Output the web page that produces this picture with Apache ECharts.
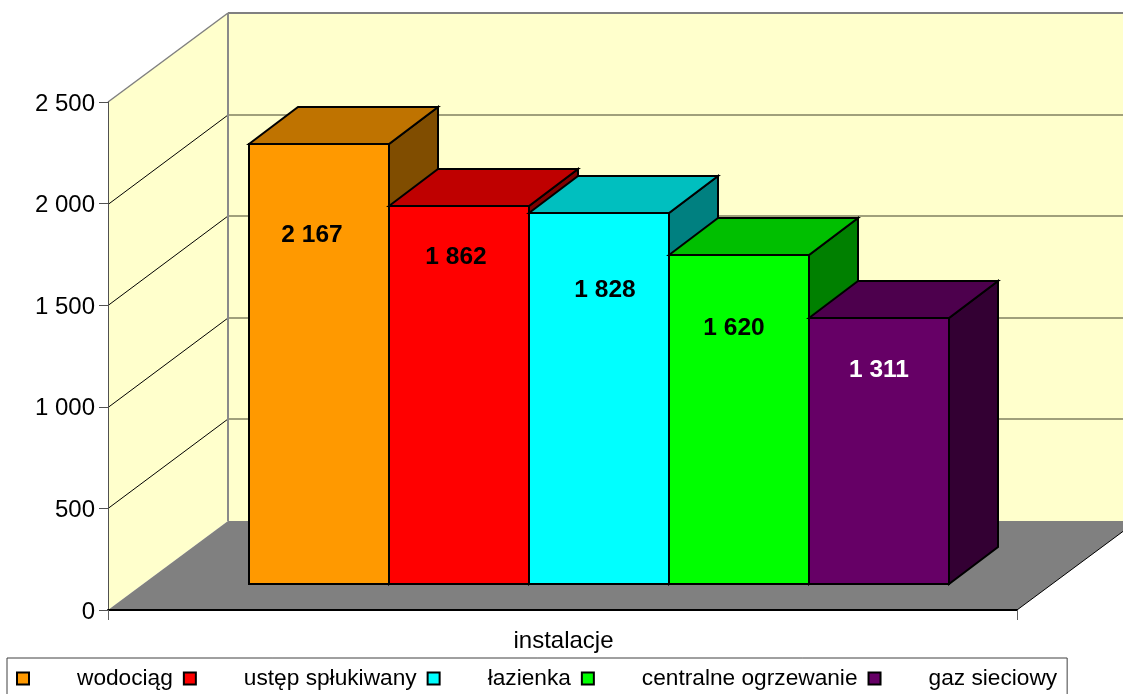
<!DOCTYPE html>
<html><head><meta charset="utf-8">
<style>html,body{margin:0;padding:0;background:#fff;overflow:hidden}#c{width:1123px;height:694px}</style>
<script src="https://cdn.jsdelivr.net/npm/echarts@6/dist/echarts.min.js"></script>
</head><body><div id="c"></div>
<script>
const category = ['instalacje'];
const seriesNames = ['wodociąg', 'ustęp spłukiwany', 'łazienka', 'centralne ogrzewanie', 'gaz sieciowy'];
const seriesValues = [2167, 1862, 1828, 1620, 1311];
const yTicks = [0, 500, 1000, 1500, 2000, 2500];

const frontColors = ['#FF9900', '#FF0000', '#00FFFF', '#00FF00', '#660066'];
const topColors = ['#BF7300', '#BF0000', '#00BFBF', '#00BF00', '#4D004D'];
const sideColors = ['#804D00', '#800000', '#008080', '#008000', '#330033'];
const labelColors = ['#000', '#000', '#000', '#000', '#fff'];
const labelNudgeX = [-7, -3, 6, -5, 0];
const labelNudgeY = [91, 51, 77, 73, 52];

const WALL_DX = 120, WALL_DY = -89;
const BAR_SHIFT_X = 36.5, BAR_LIFT = 26;
const BAR_DX = 49, BAR_DY = -37;
const BAR_SHARE = 0.154;
const FONT = '"Liberation Sans", Arial, sans-serif';

const fmt = v => String(v).replace(/\B(?=(\d{3})+$)/g, ' ');

function wallsItem(params, api) {
  const c0 = api.coord([0, 0]);
  const w = api.size([1, 0])[0];
  const L = c0[0] - w / 2, R = c0[0] + w / 2, B = c0[1];
  const T = api.coord([0, yTicks[yTicks.length - 1]])[1];
  const poly = (points, fill) => ({type: 'polygon', shape: {points}, style: {fill, stroke: null}});
  const line = (x1, y1, x2, y2, stroke, lineWidth) => ({type: 'line', shape: {x1, y1, x2, y2}, style: {stroke, lineWidth}});
  const kids = [
    poly([[L + WALL_DX, T + WALL_DY], [R + WALL_DX, T + WALL_DY], [R + WALL_DX, B + WALL_DY], [L + WALL_DX, B + WALL_DY]], '#FFFFCC'),
    poly([[L, T], [L + WALL_DX, T + WALL_DY], [L + WALL_DX, B + WALL_DY], [L, B]], '#FFFFCC'),
    poly([[L, B], [L + WALL_DX, B + WALL_DY], [R + WALL_DX, B + WALL_DY], [R, B]], '#808080')
  ];
  yTicks.slice(1, -1).forEach(t => {
    const y = Math.round(api.coord([0, t])[1]) + 0.5;
    kids.push(line(L + WALL_DX, y + WALL_DY - 0.5, R + WALL_DX, y + WALL_DY - 0.5, '#808060', 1.6));
    kids.push(line(L, y, L + WALL_DX, y + WALL_DY - 0.5, '#000', 1));
  });
  kids.push(line(L + WALL_DX, T + WALL_DY, R + WALL_DX, T + WALL_DY, '#808080', 2));
  kids.push(line(L + WALL_DX, T + WALL_DY, L + WALL_DX, B + WALL_DY, '#8a8a8a', 2));
  kids.push(line(L, T, L + WALL_DX, T + WALL_DY, '#808080', 1.5));
  kids.push(line(R, B, R + WALL_DX, B + WALL_DY, '#000', 1));
  return {type: 'group', children: kids};
}

function barItem(i) {
  return function (params, api) {
    const v = api.value(1);
    const c0 = api.coord([0, 0]);
    const cv = api.coord([0, v]);
    const bw = api.size([1, 0])[0] * BAR_SHARE;
    const x0 = Math.round(c0[0] + BAR_SHIFT_X + (i - seriesNames.length / 2) * bw);
    const x1 = Math.round(x0 + bw);
    const yb = Math.round(c0[1] - BAR_LIFT);
    const yt = Math.round(cv[1] - BAR_LIFT);
    const st = fill => ({fill, stroke: '#000', lineWidth: 2, lineJoin: 'miter'});
    return {type: 'group', children: [
      {type: 'polygon', shape: {points: [[x1, yt], [x1 + BAR_DX, yt + BAR_DY], [x1 + BAR_DX, yb + BAR_DY], [x1, yb]]}, style: st(sideColors[i])},
      {type: 'polygon', shape: {points: [[x0, yt], [x0 + BAR_DX, yt + BAR_DY], [x1 + BAR_DX, yt + BAR_DY], [x1, yt]]}, style: st(topColors[i])},
      {type: 'rect', shape: {x: x0, y: yt, width: x1 - x0, height: yb - yt}, style: st(frontColors[i])},
      {type: 'text', style: {text: fmt(v), x: (x0 + x1) / 2 + labelNudgeX[i], y: yt + labelNudgeY[i],
        fill: labelColors[i], font: 'bold 24.5px ' + FONT, align: 'center', verticalAlign: 'middle'}}
    ]};
  };
}

const series = [{
  type: 'custom', name: '_walls', z: 1, silent: true, data: [[0, 0]],
  encode: {x: 0, y: 1}, renderItem: wallsItem
}];
seriesNames.forEach((name, i) => series.push({
  type: 'custom', name, z: 2 + i, silent: true,
  itemStyle: {color: frontColors[i]},
  data: [[0, seriesValues[i]]], encode: {x: 0, y: 1}, renderItem: barItem(i)
}));

const chart = echarts.init(document.getElementById('c'));
chart.setOption({
  animation: false,
  backgroundColor: '#fff',
  grid: {left: 108, right: 106, top: 102, bottom: 84, containLabel: false},
  xAxis: {
    type: 'category', data: category, z: 10,
    axisLine: {show: true, lineStyle: {color: '#000', width: 2}},
    axisTick: {show: true, length: 10, lineStyle: {color: '#606060'}},
    axisLabel: {fontFamily: FONT, fontSize: 24, color: '#000', margin: 19, padding: [0, 0, 0, 2]}
  },
  yAxis: {
    type: 'value', min: 0, max: 2500, interval: 500, z: 10,
    splitLine: {show: false},
    axisLine: {show: true, lineStyle: {color: '#505050', width: 1}},
    axisTick: {show: true, length: 9, lineStyle: {color: '#505050'}},
    axisLabel: {fontFamily: FONT, fontSize: 24, color: '#000', margin: 13, verticalAlign: 'top', lineHeight: 4, formatter: fmt}
  },
  legend: {
    left: 7, top: 658, orient: 'horizontal', selectedMode: false,
    data: seriesNames, icon: 'rect', itemWidth: 12, itemHeight: 12, itemGap: 10,
    padding: [9, 10, 10, 9], borderColor: '#404040', borderWidth: 1, backgroundColor: '#fff',
    itemStyle: {borderColor: '#000', borderWidth: 2},
    textStyle: {fontFamily: FONT, fontSize: 22.7, color: '#000', padding: [0, 0, 0, 43]}
  },
  series
});
</script></body></html>
